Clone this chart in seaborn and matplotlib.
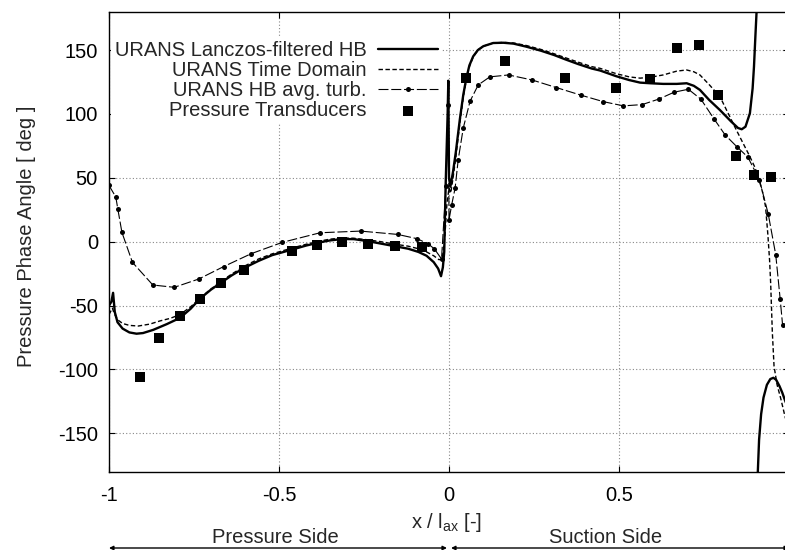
import numpy as np
import pandas as pd
import matplotlib
matplotlib.use("Agg")
import matplotlib.pyplot as plt
import seaborn as sns

# ---------------- data ----------------
# URANS Lanczos-filtered HB (solid), main branch
lanczos_x = [-1.0, -0.993, -0.988, -0.983, -0.975, -0.96, -0.94, -0.919, -0.90, -0.87,
             -0.83, -0.791, -0.76, -0.732, -0.70, -0.67, -0.64, -0.603, -0.56, -0.52,
             -0.462, -0.42, -0.38, -0.35, -0.314, -0.28, -0.24, -0.2, -0.158, -0.12,
             -0.09, -0.066, -0.045, -0.032, -0.0235, -0.018, -0.014, -0.010, -0.004, -0.002,
             -0.001, 0.0, 0.004, 0.012, 0.02, 0.032, 0.042, 0.051, 0.06, 0.071,
             0.085, 0.101, 0.13, 0.16, 0.19, 0.228, 0.27, 0.31, 0.342, 0.38,
             0.42, 0.444, 0.492, 0.53, 0.562, 0.592, 0.63, 0.67, 0.699, 0.72,
             0.738, 0.765, 0.797, 0.83, 0.85, 0.861, 0.872, 0.885, 0.893, 0.897,
             0.901, 0.905]
lanczos_y = [-50, -47, -40, -55, -63, -68, -71, -72, -71.5, -69,
             -64.5, -59.6, -52.5, -44.5, -37.5, -32, -26.5, -20.6, -15, -10.5,
             -6.2, -3, -0.5, 1, 2.1, 2, 0.5, -1.5, -3.6, -5.5,
             -8, -11, -16, -21, -27, -20, -8, 43, 100, 126,
             90, 50, 43, 55, 70, 96, 115, 128, 138, 145,
             150, 153, 155.5, 155.7, 155, 152.6, 149.5, 146, 142.7, 139,
             135.5, 134, 129.5, 126.5, 124.5, 124, 123.5, 123.5, 124, 122,
             118.8, 111, 103, 94, 89, 88, 90, 100.5, 120, 137,
             160, 182]
# wrapped branch of the same series (phase jumps from +180 to -180)
lanczos_wrap_x = [0.908, 0.912, 0.918, 0.925, 0.935, 0.945, 0.954, 0.962, 0.972, 0.98, 0.988, 1.0]
lanczos_wrap_y = [-182, -155, -135, -122, -112, -107.5, -106.5, -108, -113, -118, -124, -132]

# URANS Time Domain (dashed)
time_x = [-1.0, -0.99, -0.985, -0.975, -0.96, -0.94, -0.914, -0.88, -0.85, -0.82,
          -0.791, -0.76, -0.732, -0.70, -0.67, -0.64, -0.603, -0.56, -0.52, -0.462,
          -0.42, -0.38, -0.35, -0.314, -0.28, -0.24, -0.2, -0.158, -0.12, -0.09,
          -0.066, -0.045, -0.03, -0.02, -0.012, -0.006, 0.0, 0.005, 0.012, 0.02,
          0.032, 0.042, 0.051, 0.06, 0.071, 0.085, 0.101, 0.13, 0.16, 0.19,
          0.228, 0.27, 0.31, 0.342, 0.38, 0.42, 0.444, 0.492, 0.53, 0.562,
          0.592, 0.63, 0.67, 0.699, 0.72, 0.738, 0.765, 0.797, 0.82, 0.845,
          0.865, 0.885, 0.9, 0.912, 0.922, 0.931, 0.938, 0.943, 0.946, 0.951,
          0.956, 0.965, 0.976, 0.988, 1.0]
time_y = [-57, -52, -56, -61, -64, -65.5, -66, -64.5, -62, -60,
          -57, -51, -44, -37, -31, -25.5, -19.3, -13.5, -9.5, -5,
          -2, 0.5, 2, 2.9, 2.7, 1.5, 0, -2, -3.5, -5.5,
          -8, -11, -14, -14, 5, 30, 42, 38, 50, 66,
          93, 113, 127, 137, 144.5, 150, 153, 155.5, 156, 155.5,
          153.5, 150.5, 147, 144, 140.5, 137, 135.7, 131.5, 129, 128,
          128.7, 130.5, 133.5, 134.4, 133, 130.5, 123, 113.5, 101, 87.5,
          77, 66.6, 58, 48.4, 39, 27.6, 5, -15, -32, -71,
          -97.4, -112, -123, -136.5, -148]

# URANS HB avg. turb. (dash-dot with dots)
avg_x = [-1.0, -0.980, -0.974, -0.962, -0.931, -0.871, -0.808, -0.736, -0.663, -0.582,
         -0.490, -0.379, -0.260, -0.151, -0.093, -0.061, -0.043, -0.022, -0.009, -0.002,
         0.0, 0.008, 0.018, 0.027, 0.042, 0.062, 0.086, 0.12, 0.175, 0.244,
         0.316, 0.389, 0.454, 0.513, 0.568, 0.618, 0.662, 0.704, 0.741, 0.779,
         0.812, 0.846, 0.879, 0.913, 0.939, 0.961, 0.974, 0.981]
avg_y = [44, 35, 25.5, 7.3, -16.2, -33.9, -35.7, -29.2, -19.5, -9.4,
         -0.5, 7, 8.3, 5.7, 2.3, -1.8, -5.6, -13.5, 43.7, 107,
         17, 29, 42, 64, 89, 110, 122.7, 129, 130.5, 126.6,
         120.6, 114.6, 109.6, 106.3, 107.3, 111.7, 117, 119.3, 111.5, 96.3,
         83.6, 74.5, 66.2, 48.4, 21.6, -10.2, -44.8, -64.8]

# Pressure Transducers (squares)
exp_x = [-0.909, -0.852, -0.791, -0.732, -0.670, -0.603, -0.462, -0.388, -0.314, -0.237,
         -0.158, -0.079, 0.051, 0.166, 0.342, 0.492, 0.592, 0.671, 0.736, 0.791,
         0.845, 0.898, 0.947]
exp_y = [-105.7, -75.2, -58.3, -44.5, -32, -21.9, -7, -2.9, 0, -1.8,
         -3.6, -4.2, 127.9, 141.7, 127.9, 120, 127.6, 151.3, 153.7, 114.6,
         67.2, 52.1, 50.5]

labels = ["URANS Lanczos-filtered HB", "URANS Time Domain", "URANS HB avg. turb.",
          "Pressure Transducers"]
xticks = [-1, -0.5, 0, 0.5]
xtick_labels = ["-1", "-0.5", "0", "0.5"]
yticks = [-150, -100, -50, 0, 50, 100, 150]

# ---------------- style ----------------
sns.set_theme(style="white")
plt.rcParams["font.family"] = ["Liberation Sans", "DejaVu Sans"]
plt.rcParams["axes.unicode_minus"] = False
plt.rcParams["mathtext.fontset"] = "custom"
plt.rcParams["mathtext.rm"] = "Liberation Sans"
plt.rcParams["mathtext.it"] = "Liberation Sans"
FS = 14.5

fig = plt.figure(figsize=(7.85, 5.5), dpi=100)
W, H = 785, 550
ax_left, ax_right, ax_top, ax_bot = 109, 789, 11.7, 471.7
ax = fig.add_axes([ax_left / W, 1 - ax_bot / H, (ax_right - ax_left) / W, (ax_bot - ax_top) / H])

df_l = pd.DataFrame({"x": lanczos_x, "y": lanczos_y})
df_lw = pd.DataFrame({"x": lanczos_wrap_x, "y": lanczos_wrap_y})
df_t = pd.DataFrame({"x": time_x, "y": time_y})
df_a = pd.DataFrame({"x": avg_x, "y": avg_y})
df_e = pd.DataFrame({"x": exp_x, "y": exp_y})

sns.lineplot(data=df_l, x="x", y="y", ax=ax, color="black", lw=1.7, sort=False,
             estimator=None, label=labels[0], zorder=4)
sns.lineplot(data=df_lw, x="x", y="y", ax=ax, color="black", lw=1.7, sort=False,
             estimator=None, legend=False, zorder=4)
sns.lineplot(data=df_t, x="x", y="y", ax=ax, color="black", lw=1.0, sort=False,
             estimator=None, label=labels[1], dashes=False, zorder=3)
ax.lines[-1].set_dashes([3.2, 1.8])
sns.lineplot(data=df_a, x="x", y="y", ax=ax, color="black", lw=0.8, sort=False,
             estimator=None, label=labels[2], zorder=3, marker="o", markersize=3.6,
             markeredgewidth=0)
ax.lines[-1].set_dashes([9, 2.5])
sns.scatterplot(data=df_e, x="x", y="y", ax=ax, color="black", marker="s", s=60,
                linewidth=0, label=labels[3], zorder=5)

ax.set_xlim(-1, 1)
ax.set_ylim(-180, 180)
ax.set_xticks(xticks)
ax.set_xticklabels(xtick_labels)
ax.set_yticks(yticks)
ax.set_yticklabels([str(v) for v in yticks])
ax.tick_params(axis="both", direction="in", length=4.5, width=0.8, colors="black",
               labelsize=FS, top=True, right=True, bottom=True, left=True)
ax.tick_params(axis="x", pad=10)
ax.tick_params(axis="y", pad=8)
ax.grid(True, color="#888888", linestyle=(0, (1, 2)), linewidth=0.8)
for s in ax.spines.values():
    s.set_color("black")
    s.set_linewidth(1.0)

ax.set_xlabel("x / l$_{\\mathrm{ax}}$ [-]", fontsize=FS)
ax.xaxis.label.set_verticalalignment("baseline")
ax.xaxis.set_label_coords((447 - ax_left) / (ax_right - ax_left), (ax_bot - 528) / (ax_bot - ax_top))
ax.set_ylabel("Pressure Phase Angle [ deg ]", fontsize=FS)
ax.yaxis.label.set_verticalalignment("center")
ax.yaxis.set_label_coords((27 - ax_left) / (ax_right - ax_left), (ax_bot - 236) / (ax_bot - ax_top))

handles, labs = ax.get_legend_handles_labels()
leg = ax.legend(handles, labs, loc="upper left", bbox_to_anchor=(111 / W, 1 - 37 / H),
                bbox_transform=fig.transFigure, markerfirst=False, frameon=True,
                fancybox=False, framealpha=1, facecolor="white", edgecolor="none",
                fontsize=FS, handlelength=3.0, handletextpad=0.55, labelspacing=0.05,
                borderpad=0.2, borderaxespad=0, scatterpoints=1, numpoints=1)
leg.set_zorder(10)

# side labels and double arrows below the axis
fig.text(275 / W, 1 - 543 / H, "Pressure Side", ha="center", va="baseline", fontsize=FS)
fig.text(606 / W, 1 - 543 / H, "Suction Side", ha="center", va="baseline", fontsize=FS)
arrow_y = 1 - 548 / H
ax.annotate("", xy=(-1.0, arrow_y), xytext=(-0.006, arrow_y),
            xycoords=("data", "figure fraction"), textcoords=("data", "figure fraction"),
            arrowprops=dict(arrowstyle="<|-|>", color="black", lw=1.0, mutation_scale=6,
                            shrinkA=0, shrinkB=0), annotation_clip=False)
ax.annotate("", xy=(0.006, arrow_y), xytext=(1.0, arrow_y),
            xycoords=("data", "figure fraction"), textcoords=("data", "figure fraction"),
            arrowprops=dict(arrowstyle="<|-|>", color="black", lw=1.0, mutation_scale=6,
                            shrinkA=0, shrinkB=0), annotation_clip=False)

fig.savefig("out.png", dpi=100)
